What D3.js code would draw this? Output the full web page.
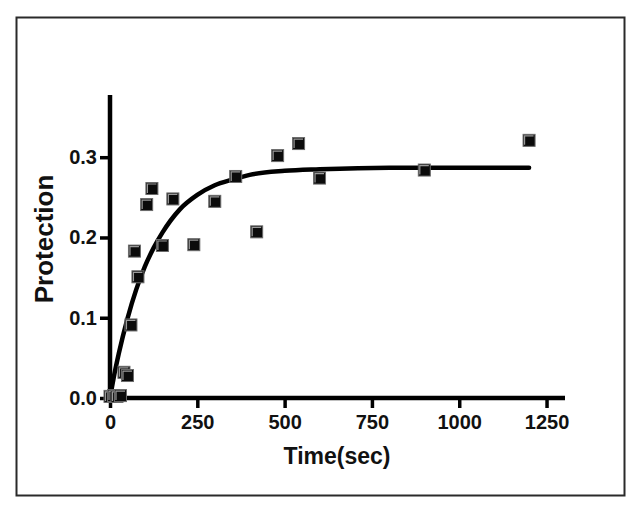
<!DOCTYPE html>
<html>
<head>
<meta charset="utf-8">
<script src="https://cdn.jsdelivr.net/npm/d3@7"></script>
<style>
  html, body { margin: 0; padding: 0; background: #fff; }
  svg { display: block; }
  text { font-family: "Liberation Sans", Arial, sans-serif; font-weight: bold; fill: #111; }
</style>
</head>
<body>
<script>
// Observed data
const timeSec    = [0, 10, 20, 30, 40, 50, 60, 70, 80, 105, 120, 150, 180, 240, 300, 360, 420, 480, 540, 600, 900, 1200];
const protection = [0.002, 0.003, 0.002, 0.003, 0.032, 0.028, 0.091, 0.183, 0.151, 0.241, 0.261, 0.190, 0.248, 0.191, 0.245, 0.276, 0.207, 0.302, 0.317, 0.274, 0.284, 0.321];

// Fitted curve, points
const fitTime  = [0, 10, 25, 50, 75, 100, 125, 150, 200, 250, 300, 350, 400, 500, 600, 800, 1000, 1200];
const fitValue = [0, 0.024, 0.055, 0.099, 0.135, 0.164, 0.187, 0.206, 0.235, 0.253, 0.265, 0.272, 0.278, 0.283, 0.285, 0.287, 0.287, 0.287];

const xTicks = [0, 250, 500, 750, 1000, 1250];
const yTicks = [0, 0.1, 0.2, 0.3];
const xTitle = "Time(sec)";
const yTitle = "Protection";

const W = 634, H = 510;
const svg = d3.select("body").append("svg").attr("width", W).attr("height", H);

// outer frame
svg.append("rect").attr("x", 16.5).attr("y", 17.5).attr("width", 608).attr("height", 478)
  .attr("fill", "none").attr("stroke", "#2a2a2a").attr("stroke-width", 2);

const x = d3.scaleLinear().domain([0, 1300]).range([110, 564]);
const y = d3.scaleLinear().domain([0, 0.3775]).range([398, 95]);

const axisW = 4.5;
const tickFont = 20;

// X axis
const gx = svg.append("g").attr("transform", `translate(0,${y(0)})`)
  .call(d3.axisBottom(x).tickValues(xTicks).tickSize(10).tickSizeOuter(0).tickPadding(7).tickFormat(d3.format("d")));
gx.select(".domain").attr("stroke", "#000").attr("stroke-width", axisW).attr("d", `M${x(0)-2},0H${x(1300)+1}`);
gx.selectAll(".tick line").attr("stroke", "#000").attr("stroke-width", 3.5);
gx.selectAll(".tick text").attr("font-size", tickFont).attr("fill", "#111")
  .style("font-family", "'Liberation Sans', Arial, sans-serif").style("font-weight", "bold");

// Y axis
const gy = svg.append("g").attr("transform", `translate(${x(0)},0)`)
  .call(d3.axisLeft(y).tickValues(yTicks).tickSize(10).tickSizeOuter(0).tickPadding(3).tickFormat(d3.format(".1f")));
gy.select(".domain").attr("stroke", "#000").attr("stroke-width", axisW).attr("d", `M0,${y(0)+2}V${y(0.3775)}`);
gy.selectAll(".tick line").attr("stroke", "#000").attr("stroke-width", 3.5);
gy.selectAll(".tick text").attr("font-size", tickFont).attr("fill", "#111")
  .style("font-family", "'Liberation Sans', Arial, sans-serif").style("font-weight", "bold");

// Fitted curve
const line = d3.line().x((d, i) => x(fitTime[i])).y((d, i) => y(fitValue[i])).curve(d3.curveMonotoneX);
svg.append("path").datum(fitValue).attr("d", line)
  .attr("fill", "none").attr("stroke", "#000").attr("stroke-width", 4.5).attr("stroke-linejoin", "round").attr("stroke-linecap", "round");

// Markers
const s = 12;
const pts = svg.append("g").selectAll("g").data(timeSec).join("g")
  .attr("transform", (d, i) => `translate(${x(d)},${y(protection[i])})`);
pts.append("rect").attr("x", -s/2).attr("y", -s/2).attr("width", s).attr("height", s)
  .attr("fill", "#0b0b0b").attr("stroke", "#6a6a6a").attr("stroke-width", 1);
pts.append("path").attr("d", `M${-s/2+1.5},${s/2-1.5}V${-s/2+1.5}H${s/2-1.5}`)
  .attr("fill", "none").attr("stroke", "#9a9a9a").attr("stroke-width", 1.2);

// Titles
svg.append("text").attr("x", 337).attr("y", 464).attr("text-anchor", "middle")
  .attr("font-size", 23).text(xTitle);
svg.append("text").attr("transform", "translate(53,239) rotate(-90)").attr("text-anchor", "middle")
  .attr("font-size", 26).text(yTitle);
</script>
</body>
</html>
